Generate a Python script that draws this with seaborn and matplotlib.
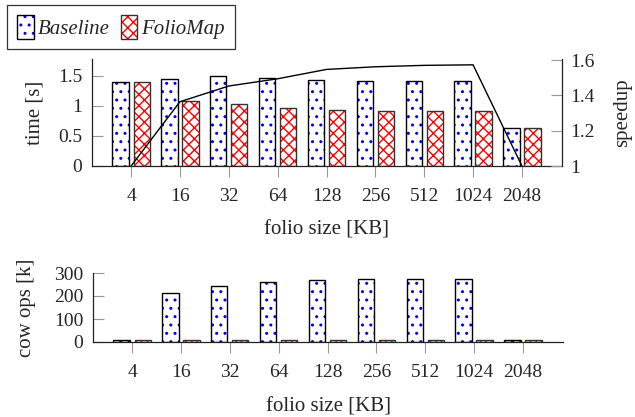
import numpy as np
import pandas as pd
import matplotlib
matplotlib.use("Agg")
import matplotlib.pyplot as plt
import seaborn as sns
from matplotlib.patches import Patch, Rectangle

# ---- data ----
sizes = ["4", "16", "32", "64", "128", "256", "512", "1024", "2048"]
systems = ["Baseline", "FolioMap"]
time_baseline = [1.39, 1.445, 1.495, 1.46, 1.435, 1.42, 1.42, 1.42, 0.635]
time_foliomap = [1.405, 1.078, 1.028, 0.97, 0.935, 0.922, 0.918, 0.918, 0.635]
speedup = [1.0, 1.364, 1.453, 1.494, 1.547, 1.562, 1.570, 1.573, 1.0]
cow_baseline = [9, 212, 244, 260, 268, 272, 273, 273, 9]
cow_foliomap = [9, 9, 9, 9, 9, 9, 9, 9, 9]

hatch_colors = {"Baseline": "blue", "FolioMap": "red"}
hatches = {"Baseline": "..", "FolioMap": "xxx"}
edge_colors = {"Baseline": "black", "FolioMap": "#333333"}

sns.set_style("ticks")
plt.rcParams["font.family"] = ["Liberation Serif", "DejaVu Serif"]
plt.rcParams["font.size"] = 14
plt.rcParams["hatch.linewidth"] = 1.0

LABEL_FS = 15
TICK_FS = 14

df_time = pd.DataFrame({
    "size": sizes * 2,
    "system": [systems[0]] * len(sizes) + [systems[1]] * len(sizes),
    "time": time_baseline + time_foliomap,
})
df_cow = pd.DataFrame({
    "size": sizes * 2,
    "system": [systems[0]] * len(sizes) + [systems[1]] * len(sizes),
    "cow": cow_baseline + cow_foliomap,
})
df_speed = pd.DataFrame({"pos": np.arange(len(sizes)), "speedup": speedup})

fig = plt.figure(figsize=(6.35, 4.17), dpi=100)
W, H = 635, 417
ax1 = fig.add_axes([92 / W, 1 - 166 / H, 470 / W, 107 / H])
ax3 = fig.add_axes([93 / W, 1 - 342 / H, 470 / W, 69 / H])


def style_bars(ax):
    n = len(sizes)
    patches = list(ax.patches)
    for i, p in enumerate(patches):
        sysname = systems[i // n]
        p.set_facecolor("white")
        p.set_edgecolor(hatch_colors[sysname])
        p.set_linewidth(0)
        p.set_hatch(hatches[sysname])
        ax.add_patch(Rectangle(p.get_xy(), p.get_width(), p.get_height(),
                               fill=False, edgecolor=edge_colors[sysname],
                               linewidth=1.0, zorder=p.get_zorder() + 0.1))


def style_axis(ax, xlabel_pad):
    for s in ["top", "right"]:
        ax.spines[s].set_visible(False)
    for s in ["left", "bottom"]:
        ax.spines[s].set_color("#222222")
        ax.spines[s].set_linewidth(0.9)
    ax.tick_params(axis="x", direction="out", length=8, width=0.8,
                   color="#999999", pad=8, labelsize=TICK_FS)
    ax.tick_params(axis="y", direction="in", length=8, width=0.8,
                   color="#999999", pad=7, labelsize=TICK_FS)
    ax.set_xlim(-0.8, 8.82)
    ax.set_xlabel("folio size [KB]", fontsize=LABEL_FS, labelpad=xlabel_pad)


# ---- top: time + speedup ----
sns.barplot(data=df_time, x="size", y="time", hue="system", order=sizes,
            hue_order=systems, palette=["white", "white"], width=0.86, gap=0.23,
            legend=False, ax=ax1)
style_bars(ax1)
style_axis(ax1, 11)
ax1.set_ylim(0, 1.78)
ax1.set_yticks([0, 0.5, 1, 1.5])
ax1.set_yticklabels(["0", "0.5", "1", "1.5"])
ax1.set_ylabel("time [s]", fontsize=LABEL_FS, labelpad=10)

ax2 = ax1.twinx()
sns.lineplot(data=df_speed, x="pos", y="speedup", color="black", linewidth=1.0,
             ax=ax2)
ax2.set_xlim(-0.8, 8.82)
ax2.set_ylim(1, 1.606)
ax2.set_yticks([1, 1.2, 1.4, 1.6])
ax2.set_yticklabels(["1", "1.2", "1.4", "1.6"])
for s in ["top", "left", "bottom"]:
    ax2.spines[s].set_visible(False)
ax2.spines["right"].set_color("#222222")
ax2.spines["right"].set_linewidth(0.9)
ax2.tick_params(axis="y", direction="in", length=8, width=0.8,
                color="#999999", pad=6, labelsize=TICK_FS)
ax2.set_ylabel("speedup", fontsize=LABEL_FS, labelpad=13)
ax2.set_xlabel("")

# ---- bottom: cow ops ----
sns.barplot(data=df_cow, x="size", y="cow", hue="system", order=sizes,
            hue_order=systems, palette=["white", "white"], width=0.86, gap=0.23,
            legend=False, ax=ax3)
style_bars(ax3)
style_axis(ax3, 12)
ax3.set_ylim(0, 300)
ax3.set_yticks([0, 100, 200, 300])
ax3.set_ylabel("cow ops [k]", fontsize=LABEL_FS, labelpad=13)

# ---- legend ----
handles = []
for sname in systems:
    h_fill = Patch(facecolor="white", edgecolor=hatch_colors[sname],
                   linewidth=0, hatch=hatches[sname])
    h_edge = Patch(fill=False, edgecolor=edge_colors[sname], linewidth=1.0)
    handles.append((h_fill, h_edge))
leg = fig.legend(handles, systems, loc="upper left",
                 bbox_to_anchor=(7 / W, 1 - 5 / H), ncol=2, frameon=True,
                 fancybox=False, edgecolor="black", borderaxespad=0,
                 prop={"style": "italic", "size": 15},
                 handlelength=0.8, handleheight=1.35, handletextpad=0.2,
                 columnspacing=0.5, borderpad=0.5)
leg.get_frame().set_linewidth(0.9)

fig.savefig("out.png", dpi=100)
